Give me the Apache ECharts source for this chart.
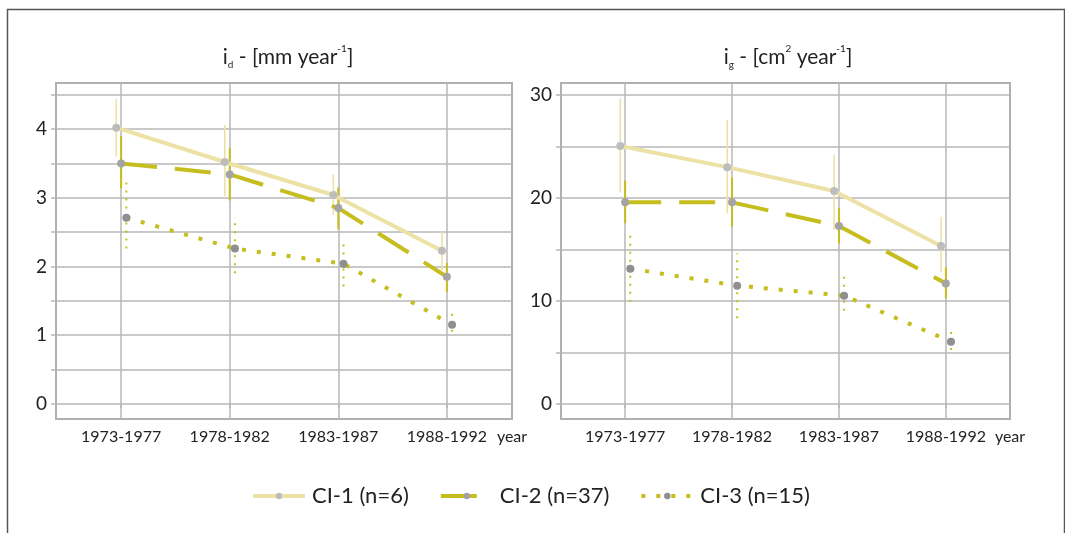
<!DOCTYPE html>
<html>
<head>
<meta charset="utf-8">
<script src="https://cdn.jsdelivr.net/npm/echarts@6/dist/echarts.min.js"></script>
<style>
html,body{margin:0;padding:0;background:#fff;}
#main{width:1065px;height:533px;}
</style>
</head>
<body>
<div id="main"></div>
<script>
// ---- data ----
var categories = ['1973-1977', '1978-1982', '1983-1987', '1988-1992'];
var catPos = [1, 2, 3, 4];
var xAxisUnit = 'year';
var xUnitPos = 4.6;

// i_d [mm year-1]
var id_ci1 = [4.02, 3.52, 3.04, 2.23];
var id_ci1_lo = [3.60, 3.02, 2.75, 1.95];
var id_ci1_hi = [4.44, 4.06, 3.34, 2.51];
var id_ci2 = [3.50, 3.34, 2.85, 1.85];
var id_ci2_lo = [3.14, 2.96, 2.54, 1.63];
var id_ci2_hi = [3.90, 3.72, 3.15, 2.05];
var id_ci3 = [2.71, 2.26, 2.04, 1.15];
var id_ci3_lo = [2.26, 1.90, 1.71, 1.05];
var id_ci3_hi = [3.23, 2.72, 2.40, 1.34];

// i_g [cm2 year-1]
var ig_ci1 = [25.05, 23.0, 20.68, 15.34];
var ig_ci1_lo = [20.55, 18.51, 16.89, 12.85];
var ig_ci1_hi = [29.68, 27.57, 24.17, 18.19];
var ig_ci2 = [19.58, 19.58, 17.28, 11.71];
var ig_ci2_lo = [17.54, 17.21, 15.60, 10.26];
var ig_ci2_hi = [21.68, 22.00, 19.00, 13.27];
var ig_ci3 = [13.14, 11.49, 10.52, 6.05];
var ig_ci3_lo = [9.93, 8.32, 9.06, 5.24];
var ig_ci3_hi = [16.41, 14.63, 12.75, 7.18];

var seriesNames = ['CI-1 (n=6)', 'CI-2 (n=37)', 'CI-3 (n=15)'];
var seriesOffsets = [-0.045, 0, 0.048];

// ticks
var yTicksLeft = [0, 0.5, 1, 1.5, 2, 2.5, 3, 3.5, 4, 4.5];
var yLabelsLeft = [0, 1, 2, 3, 4];
var yTicksRight = [0, 5, 10, 15, 20, 25, 30];
var yLabelsRight = [0, 10, 20, 30];

// ---- styles ----
var FONT = 'Lato';
var C1 = '#ece2a6', C2 = '#c6be1e';
var M1 = '#bdbdbd', M2 = '#a4a4a4', M3 = '#8f8f8f';
var GRID = '#b7b7b7';

function pts(vals, off) {
  return vals.map(function (v, i) { return [catPos[i] + off, v]; });
}
function bars(lo, hi, off) {
  return lo.map(function (v, i) { return [catPos[i] + off, v, hi[i]]; });
}

function errSeries(name, lo, hi, off, gi, style) {
  return {
    name: name + ' err',
    type: 'custom',
    xAxisIndex: gi, yAxisIndex: gi,
    coordinateSystem: 'cartesian2d',
    silent: true,
    z: 2,
    encode: { x: 0, y: [1, 2] },
    data: bars(lo, hi, off),
    renderItem: function (params, api) {
      var a = api.coord([api.value(0), api.value(1)]);
      var b = api.coord([api.value(0), api.value(2)]);
      return {
        type: 'line',
        shape: { x1: a[0], y1: a[1], x2: b[0], y2: b[1] },
        style: style
      };
    }
  };
}

function lineSeries(idx, vals, gi) {
  var ls = [
    { color: C1, width: 4, type: 'solid' },
    { color: C2, width: 4, type: [36, 18] },
    { color: C2, width: 4, type: [4, 11] }
  ][idx];
  var mc = [M1, M2, M3][idx];
  return {
    name: seriesNames[idx],
    type: 'line',
    xAxisIndex: gi, yAxisIndex: gi,
    data: pts(vals, seriesOffsets[idx]),
    symbol: 'circle',
    symbolSize: 8,
    z: 3 + (2 - idx),
    lineStyle: ls,
    itemStyle: { color: mc },
    animation: false
  };
}

var errStyles = [
  { stroke: C1, lineWidth: 1.6 },
  { stroke: C2, lineWidth: 2 },
  { stroke: C2, lineWidth: 2, lineDash: [2, 6] }
];

function xAxis(gi) {
  return {
    type: 'value', gridIndex: gi, min: 0.4, max: xUnitPos,
    axisLine: { show: false },
    axisTick: { show: true, length: 4, lineStyle: { color: GRID, width: 1.5 }, customValues: catPos },
    axisLabel: {
      customValues: catPos.concat([xUnitPos]), margin: 10, hideOverlap: false,
      showMaxLabel: true, showMinLabel: true,
      fontFamily: FONT, fontSize: 16, color: '#222',
      formatter: function (v) {
        return v > catPos[catPos.length - 1] + 0.3 ? xAxisUnit : categories[Math.round(v) - 1];
      }
    },
    splitLine: { show: true, lineStyle: { color: GRID, width: 1.5 } }
  };
}
function yAxis(gi, min, max, ticks, labels) {
  return {
    type: 'value', gridIndex: gi, min: min, max: max,
    axisLine: { show: false },
    axisTick: { show: true, length: 5, lineStyle: { color: GRID, width: 1.5 }, customValues: ticks },
    axisLabel: { customValues: labels, margin: 9, fontFamily: FONT, fontSize: 19, color: '#222' },
    splitLine: { show: true, lineStyle: { color: GRID, width: 1.5 } }
  };
}

var titleRich = {
  a: { fontFamily: FONT, fontSize: 21, fontWeight: 'normal', color: '#222', lineHeight: 26 },
  sub: { fontFamily: FONT, fontSize: 10, fontWeight: 'normal', color: '#222', lineHeight: 26, verticalAlign: 'bottom' },
  sup: { fontFamily: FONT, fontSize: 10, fontWeight: 'normal', color: '#222', lineHeight: 26, verticalAlign: 'top' }
};

var chart = echarts.init(document.getElementById('main'), null, { renderer: 'canvas' });
var option = {
  animation: false,
  backgroundColor: '#fff',
  title: [
    { left: 283, top: 39, textAlign: 'center', text: '{a|i}{sub|d}{a| - [mm year}{sup|-1}{a|]}', textStyle: { fontWeight: 'normal', rich: titleRich } },
    { left: 783, top: 39, textAlign: 'center', text: '{a|i}{sub|g}{a| - [cm}{sup|2}{a| year}{sup|-1}{a|]}', textStyle: { fontWeight: 'normal', rich: titleRich } }
  ],
  graphic: [
    { type: 'rect', left: 5, top: 7, silent: true, z: -10,
      shape: { width: 1057, height: 540 },
      style: { fill: 'none', stroke: '#555', lineWidth: 1.5 } }
  ],
  legend: {
    left: 246, top: 480,
    itemWidth: 52, itemHeight: 8, itemGap: 30,
    data: seriesNames,
    lineStyle: { width: 4 },
    textStyle: { fontFamily: FONT, fontSize: 22, color: '#222', padding: [0, 0, 0, 2] }
  },
  grid: [
    { left: 56, top: 83, width: 456, height: 336, show: true, borderColor: '#b0b0b0', borderWidth: 2, backgroundColor: 'transparent' },
    { left: 561, top: 83, width: 449, height: 336, show: true, borderColor: '#b0b0b0', borderWidth: 2, backgroundColor: 'transparent' }
  ],
  xAxis: [xAxis(0), xAxis(1)],
  yAxis: [
    yAxis(0, -0.22, 4.67, yTicksLeft, yLabelsLeft),
    yAxis(1, -1.46, 31.17, yTicksRight, yLabelsRight)
  ],
  series: [
    errSeries('CI-1 l', id_ci1_lo, id_ci1_hi, seriesOffsets[0], 0, errStyles[0]),
    errSeries('CI-2 l', id_ci2_lo, id_ci2_hi, seriesOffsets[1], 0, errStyles[1]),
    errSeries('CI-3 l', id_ci3_lo, id_ci3_hi, seriesOffsets[2], 0, errStyles[2]),
    errSeries('CI-1 r', ig_ci1_lo, ig_ci1_hi, seriesOffsets[0], 1, errStyles[0]),
    errSeries('CI-2 r', ig_ci2_lo, ig_ci2_hi, seriesOffsets[1], 1, errStyles[1]),
    errSeries('CI-3 r', ig_ci3_lo, ig_ci3_hi, seriesOffsets[2], 1, errStyles[2]),
    lineSeries(0, id_ci1, 0),
    lineSeries(1, id_ci2, 0),
    lineSeries(2, id_ci3, 0),
    lineSeries(0, ig_ci1, 1),
    lineSeries(1, ig_ci2, 1),
    lineSeries(2, ig_ci3, 1)
  ]
};
chart.setOption(option);
</script>
</body>
</html>
